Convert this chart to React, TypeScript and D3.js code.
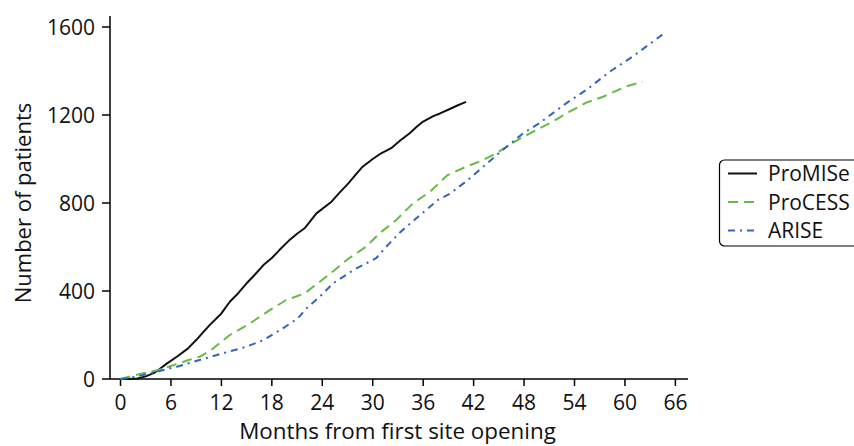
import React from "react";
import * as d3 from "d3";

const xTicks = [0, 6, 12, 18, 24, 30, 36, 42, 48, 54, 60, 66];
const yTicks = [0, 400, 800, 1200, 1600];

const promiseMonths = [0, 1, 2, 3, 4, 4.5, 5.5, 6.7, 8, 9, 10, 10.6, 12, 13, 14, 15, 16, 17, 18, 18.9, 20, 21, 21.9, 23.3, 25.1, 26, 27.1, 28, 28.8, 30, 31, 32.2, 33.3, 34.4, 35.2, 36, 37.2, 38, 39.1, 40, 41.1];
const promiseValues = [0, 0, 2, 12, 28, 41, 70, 101, 138, 177, 220, 245, 298, 351, 390, 435, 475, 518, 550, 586, 628, 660, 685, 753, 806, 845, 889, 930, 965, 1000, 1026, 1049, 1085, 1117, 1145, 1170, 1195, 1207, 1226, 1242, 1260];

const processMonths = [0, 2.3, 4.5, 6.7, 8, 9.4, 10.8, 12, 13, 15.4, 17.8, 19.7, 21.9, 23.7, 25.3, 26.9, 28, 29.2, 30.8, 32.8, 34.8, 36.8, 38.9, 40.7, 43.1, 44.7, 46.9, 48.7, 51, 53.4, 55.4, 57.4, 60.1, 62.1];
const processValues = [0, 23, 41, 68, 85, 101, 132, 170, 200, 253, 314, 359, 389, 442, 490, 541, 570, 601, 662, 723, 799, 851, 927, 958, 995, 1026, 1079, 1117, 1162, 1215, 1256, 1283, 1329, 1351];

const ariseMonths = [0, 2, 4.3, 6.7, 9.4, 12.2, 15, 17, 19.3, 21.1, 22.1, 23.7, 25.3, 27.7, 30.4, 31.6, 33.2, 35.4, 37.8, 39.1, 41, 43, 45.1, 47.9, 49.8, 53, 55.4, 58.2, 60.9, 63.3, 64.9];
const ariseValues = [0, 12, 33, 56, 86, 117, 147, 177, 230, 276, 321, 374, 435, 495, 549, 601, 665, 738, 815, 840, 895, 960, 1030, 1117, 1162, 1253, 1314, 1397, 1465, 1533, 1578];

const seriesNames = ["ProMISe", "ProCESS", "ARISE"];
const seriesColors = ["#111111", "#66bb44", "#3366bb"];
const seriesDash = ["none", "10,6", "7,5,2,5"];

const FONT = "'Open Sans', 'Noto Sans', sans-serif";

export default function App() {
  const width = 854;
  const height = 446;
  const x = d3.scaleLinear().domain([-1.25, 67.5]).range([110, 688]);
  const y = d3.scaleLinear().domain([0, 1650]).range([379, 16]);

  const series = [
    promiseMonths.map((m, i) => [m, promiseValues[i]] as [number, number]),
    processMonths.map((m, i) => [m, processValues[i]] as [number, number]),
    ariseMonths.map((m, i) => [m, ariseValues[i]] as [number, number]),
  ];
  const line = d3
    .line<[number, number]>()
    .x((d) => x(d[0]))
    .y((d) => y(d[1]));

  const [x0, x1] = x.range();
  const [yb, yt] = y.range();

  return (
    <div style={{ position: "fixed", left: 0, top: 0 }}>
      <svg width={width} height={height} style={{ display: "block", background: "#fff" }} fontFamily={FONT}>
        {/* axes */}
        <line x1={x0} x2={x0} y1={yb} y2={yt} stroke="#000" strokeWidth={1.5} />
        <line x1={x0} x2={x1} y1={yb} y2={yb} stroke="#000" strokeWidth={1.5} />
        {yTicks.map((t) => (
          <g key={"y" + t}>
            <line x1={x0 - 8} x2={x0} y1={y(t)} y2={y(t)} stroke="#000" strokeWidth={1.5} />
            <text x={95} y={y(t)} dy="0.36em" textAnchor="end" fontSize={21} fill="#111">
              {t}
            </text>
          </g>
        ))}
        {xTicks.map((t) => (
          <g key={"x" + t}>
            <line x1={x(t)} x2={x(t)} y1={yb} y2={yb + 7} stroke="#000" strokeWidth={1.5} />
            <text x={x(t)} y={410} textAnchor="middle" fontSize={21} fill="#111">
              {t}
            </text>
          </g>
        ))}
        <text x={397.5} y={439} textAnchor="middle" fontSize={22.4} fill="#111">
          Months from first site opening
        </text>
        <text
          transform={`translate(30.5, ${(y(0) + y(1600)) / 2}) rotate(-90)`}
          textAnchor="middle"
          fontSize={22}
          fill="#111"
        >
          Number of patients
        </text>

        {/* series */}
        {series.map((s, i) => (
          <path
            key={seriesNames[i]}
            d={line(s) || ""}
            fill="none"
            stroke={seriesColors[i]}
            strokeWidth={2}
            strokeDasharray={seriesDash[i]}
            strokeLinejoin="round"
          />
        ))}

        {/* legend */}
        <rect x={719.5} y={160} width={160} height={86} rx={5} ry={5} fill="#fff" stroke="#000" strokeWidth={1.2} />
        {seriesNames.map((n, i) => {
          const ly = 173.5 + i * 28.5;
          return (
            <g key={"lg" + n}>
              <line x1={728} x2={757} y1={ly} y2={ly} stroke={seriesColors[i]} strokeWidth={2} strokeDasharray={seriesDash[i]} />
              <text x={768} y={ly} dy="0.36em" fontSize={21} fill="#111">
                {n}
              </text>
            </g>
          );
        })}
      </svg>
    </div>
  );
}
